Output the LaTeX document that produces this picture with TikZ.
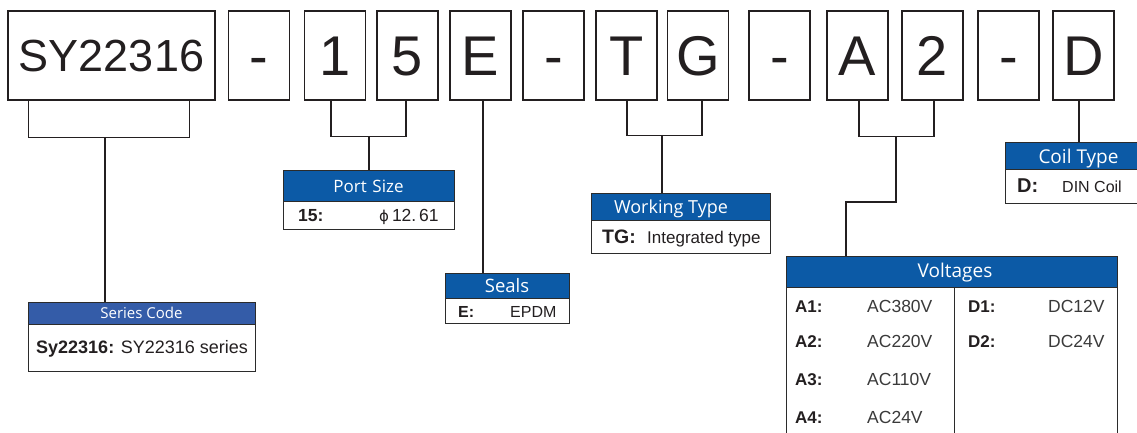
\documentclass[tikz,border=0pt]{standalone}
\usepackage{fontspec}
\setmainfont{Liberation Sans}
\newfontfamily\hfont{Open Sans}
\newfontfamily\dvfont{DejaVu Sans}
\definecolor{hblue}{HTML}{0C5AA6}
\definecolor{sblue}{HTML}{345CA8}
\definecolor{ink}{HTML}{231F20}
\definecolor{edge}{HTML}{2B2B2B}
\definecolor{valc}{HTML}{3A3A3A}
\newcommand\myfs[1]{\fontsize{#1}{#1}\selectfont}
\begin{document}
\begin{tikzpicture}[x=1pt,y=-1pt,
  topbox/.style={draw=ink, line width=1.2pt, minimum width=61pt, minimum height=89pt, inner sep=0pt,
    text height=40pt, text depth=0pt, font=\myfs{56}, text=ink},
  hdrbox/.style={draw=edge, fill=hblue, line width=1pt, inner sep=0pt, anchor=north west},
  bodybox/.style={draw=edge, fill=white, line width=1pt, inner sep=0pt, anchor=north west},
  hd/.style={font=\hfont\myfs{#1}, text=white, anchor=base, inner sep=0pt},
  key/.style={font=\bfseries\myfs{#1}, text=ink, anchor=base west, inner sep=0pt},
  val/.style={font=\myfs{#1}, text=ink, anchor=base west, inner sep=0pt},
  conn/.style={draw=ink, line width=1.1pt}
]
\useasboundingbox (0,0) rectangle (1137,433);
\clip (0,0) rectangle (1137,433);

% top code boxes
\node[topbox, minimum width=207pt, text height=32pt, font=\myfs{45}] (sy) at (111.5,55.5) {SY22316};
\node[topbox] (d1) at (259,55.5) {-};
\node[topbox] (p1) at (335,55.5) {1};
\node[topbox] (p5) at (407.5,55.5) {5};
\node[topbox] (e) at (480.5,55.5) {E};
\node[topbox] (d2) at (553.5,55.5) {-};
\node[topbox] (t) at (626.5,55.5) {T};
\node[topbox] (g) at (698,55.5) {G};
\node[topbox] (d3) at (779.5,55.5) {-};
\node[topbox] (a) at (857.5,55.5) {A};
\node[topbox] (n2) at (932.5,55.5) {2};
\node[topbox] (d4) at (1008.5,55.5) {-};
\node[topbox] (dd) at (1083.5,55.5) {D};

% Series Code box
\node[hdrbox, fill=sblue, minimum width=227pt, minimum height=22pt] (serH) at (28,302) {};
\node[bodybox, minimum width=227pt, minimum height=47pt] (serB) at (28,324) {};
\node[hd=15] (serT) at (141.5,318) {Series Code};
\node[val=18] (serK) at (36,353) {\textbf{Sy22316:} SY22316 series};

% Port Size box
\node[hdrbox, minimum width=171pt, minimum height=31pt] (portH) at (283,170) {};
\node[bodybox, minimum width=171pt, minimum height=28pt] (portB) at (283,201) {};
\node[hd=17] (portT) at (368.5,192) {Port\,\,Size};
\node[key=17.5] (portK) at (298,221) {15:};
\node[val=17.5] (portV) at (379,221) {{\dvfont\myfs{15}ϕ}\,12.\,61};

% Seals box
\node[hdrbox, minimum width=124pt, minimum height=25pt] (sealH) at (445,273) {};
\node[bodybox, minimum width=124pt, minimum height=25pt] (sealB) at (445,298) {};
\node[hd=18.5] (sealT) at (507,292) {Seals};
\node[key=16] (sealK) at (458,317) {E:};
\node[val=16] (sealV) at (510,317) {EPDM};

% Working Type box
\node[hdrbox, minimum width=179pt, minimum height=27pt] (workH) at (591,193) {};
\node[bodybox, minimum width=179pt, minimum height=33pt] (workB) at (591,220) {};
\node[hd=18] (workT) at (671,213) {Working Type};
\node[key=19.5] (workK) at (602,243) {TG:};
\node[val=17] (workV) at (647,243) {Integrated type};

% Voltages box
\node[hdrbox, minimum width=331pt, minimum height=31pt] (volH) at (786,256) {};
\node[bodybox, minimum width=331pt, minimum height=160pt] (volB) at (786,287) {};
\node[hd=19] (volT) at (955,277) {Voltages};
\coordinate (vdiv) at (954,287);
\draw[conn, draw=edge, line width=1pt] (vdiv) -- (vdiv |- volB.south);
\node[key=17] (k1) at (795,312) {A1:};
\node[key=17] (k2) at (795,347) {A2:};
\node[key=17] (k3) at (795,385) {A3:};
\node[key=17] (k4) at (795,423) {A4:};
\node[val=17.5, text=valc] (v1) at (867,312) {AC380V};
\node[val=17.5, text=valc] (v2) at (867,347) {AC220V};
\node[val=17.5, text=valc] (v3) at (867,385) {AC110V};
\node[val=17.5, text=valc] (v4) at (867,423) {AC24V};
\node[key=17] (k5) at (968,312) {D1:};
\node[key=17] (k6) at (968,347) {D2:};
\node[val=17.5, text=valc] (v5) at (1048,312) {DC12V};
\node[val=17.5, text=valc] (v6) at (1048,347) {DC24V};

% Coil Type box
\node[hdrbox, minimum width=147pt, minimum height=27pt] (coilH) at (1005,142) {};
\node[bodybox, minimum width=147pt, minimum height=34pt] (coilB) at (1005,169) {};
\node[hd=19] (coilT) at (1078.5,163) {Coil Type};
\node[key=20] (coilK) at (1017,192) {D:};
\node[val=16] (coilV) at (1062,192) {DIN Coil};

% connectors
\coordinate (syS) at (105,137);
\draw[conn] ([xshift=21pt]sy.south west) -- ++(0,37) -| ([xshift=-26pt]sy.south east);
\draw[conn] (syS) -- (syS |- serH.north);

\coordinate (pS) at (369,136);
\draw[conn] ([xshift=-4pt]p1.south) -- ++(0,36) -| ([xshift=-1.5pt]p5.south);
\draw[conn] (pS) -- (pS |- portH.north);

\draw[conn] ([xshift=2.5pt]e.south) -- ([xshift=2.5pt]e.south |- sealH.north);

\coordinate (tS) at (662,135);
\draw[conn] ([xshift=0.5pt]t.south) -- ++(0,35) -| ([xshift=4pt]g.south);
\draw[conn] (tS) -- (tS |- workH.north);

\coordinate (aS) at (896,136);
\coordinate (aK) at (846,202);
\draw[conn] ([xshift=1.5pt]a.south) -- ++(0,36) -| ([xshift=1.5pt]n2.south);
\draw[conn] (aS) |- (aK) -- (aK |- volH.north);

\draw[conn] ([xshift=-4.5pt]dd.south) -- ([xshift=-4.5pt]dd.south |- coilH.north);
\end{tikzpicture}
\end{document}
